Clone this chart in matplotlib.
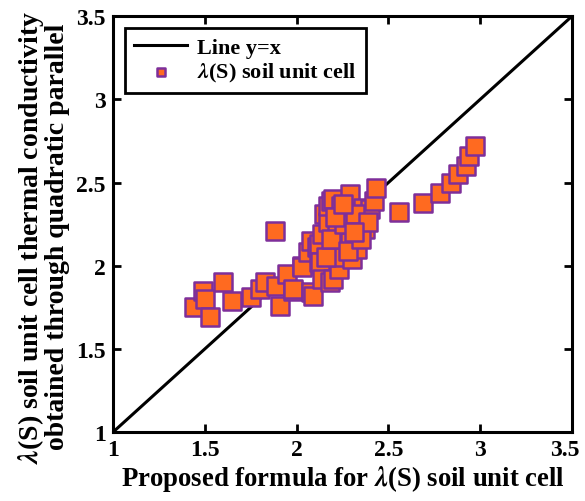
import numpy as np
import matplotlib
matplotlib.use("Agg")
import matplotlib.pyplot as plt
import matplotlib.transforms as mtransforms

plt.rcParams['font.family'] = ['Liberation Serif', 'DejaVu Serif']
plt.rcParams['font.weight'] = 'bold'
plt.rcParams['mathtext.fontset'] = 'stix'

# proposed formula (x) vs quadratic parallel (y)
prop_x = [1.44, 1.49, 1.50, 1.53, 1.60, 1.65, 1.75, 1.80, 1.83, 1.88,
          1.89, 1.91, 1.95, 1.98, 1.98, 2.03, 2.03, 2.06, 2.08, 2.08,
          2.09, 2.11, 2.12, 2.12, 2.13, 2.14, 2.14, 2.15, 2.17, 2.17,
          2.18, 2.19, 2.20, 2.20, 2.22, 2.22, 2.23, 2.23, 2.24, 2.24,
          2.24, 2.27, 2.27, 2.29, 2.29, 2.30, 2.31, 2.33, 2.33, 2.35,
          2.36, 2.37, 2.38, 2.40, 2.42, 2.43, 2.56, 2.69, 2.78, 2.84,
          2.88, 2.92, 2.94, 2.97, 2.16, 2.19, 2.26, 2.32, 2.21, 2.28,
          2.35, 2.25, 2.39, 2.31]
quad_y = [1.75, 1.85, 1.80, 1.69, 1.90, 1.79, 1.81, 1.86, 1.90, 2.21,
          1.88, 1.76, 1.95, 1.85, 1.86, 2.00, 1.99, 2.08, 2.15, 1.84,
          1.82, 2.11, 2.02, 2.13, 2.02, 1.92, 2.19, 2.31, 2.26, 2.36,
          1.90, 2.39, 1.92, 2.40, 2.22, 2.07, 1.98, 2.06, 2.12, 2.36,
          2.05, 2.34, 2.18, 2.43, 2.14, 2.04, 2.28, 2.18, 2.10, 2.27,
          2.35, 2.22, 2.30, 2.34, 2.39, 2.47, 2.32, 2.38, 2.44, 2.50,
          2.55, 2.60, 2.66, 2.72, 2.05, 2.16, 2.25, 2.31, 2.29, 2.09,
          2.16, 2.37, 2.26, 2.20]

line_xy = [1, 3.5]
ticks = [1, 1.5, 2, 2.5, 3, 3.5]
tick_labels = ['1', '1.5', '2', '2.5', '3', '3.5']

fig = plt.figure(figsize=(5.85, 5.02), dpi=100)
ax = fig.add_axes([0.193, 0.137, 0.785, 0.829])

ax.plot(line_xy, line_xy, color='black', lw=2.2, label='Line y=x', zorder=2)
ax.scatter(prop_x, quad_y, marker='s', s=165, facecolor='#FF6A20',
           edgecolor='#7E2F9A', linewidth=1.8, zorder=3,
           label=r'$\lambda$(S) soil unit cell')

ax.set_xlim(1, 3.5)
ax.set_ylim(1, 3.5)
ax.set_xticks(ticks)
ax.set_xticklabels(tick_labels)
ax.set_yticks(ticks)
ax.set_yticklabels(tick_labels)
ax.tick_params(direction='in', top=True, right=True, length=6, width=2,
               labelsize=17, pad=5)
for s in ax.spines.values():
    s.set_linewidth(2.2)

# last x tick label sits on the figure edge, pull it in a few pixels
last = ax.xaxis.get_major_ticks()[-1].label1
last.set_transform(last.get_transform() +
                   mtransforms.ScaledTranslation(-5 / 72, 0, fig.dpi_scale_trans))

ax.set_xlabel(r'Proposed formula for $\lambda$(S) soil unit cell',
              fontsize=19.3, fontweight='bold', labelpad=2)
ax.set_ylabel('$\\lambda$(S) soil unit cell thermal conductivity\nobtained through quadratic parallel',
              fontsize=20, fontweight='bold', linespacing=0.95)
ax.yaxis.set_label_coords(-0.094, 0.471)

leg = ax.legend(loc='upper left', fontsize=16, fancybox=False,
                edgecolor='black', framealpha=1, markerscale=0.4,
                handlelength=2.4, handletextpad=0.45, borderaxespad=0.55,
                borderpad=0.4, labelspacing=0.14)
leg.get_frame().set_linewidth(2)
for t in leg.get_texts():
    t.set_fontweight('bold')

fig.savefig('out.png', dpi=100)
